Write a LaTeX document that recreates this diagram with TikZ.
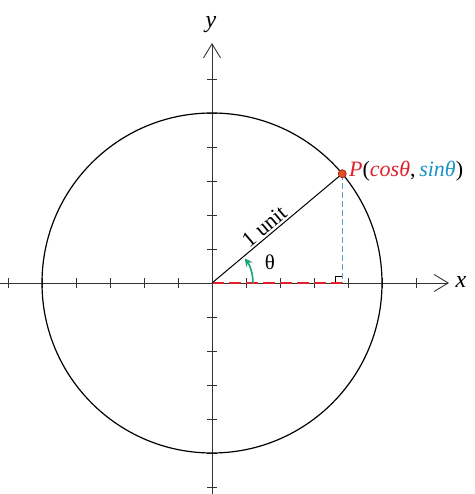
\documentclass[tikz,border=0pt]{standalone}
\usepackage{fontspec}
\setmainfont{Liberation Serif}
\usetikzlibrary{arrows.meta,calc}
\definecolor{ptred}{HTML}{E0202A}
\definecolor{ptblue}{HTML}{1A93C8}
\definecolor{arcgreen}{HTML}{1AA37A}
\definecolor{dotfill}{HTML}{E0502A}
\definecolor{dotline}{HTML}{A02A10}
\definecolor{dashblue}{HTML}{5A9EC8}
\definecolor{axisgray}{HTML}{333333}
\tikzset{
  axisline/.style={draw=axisgray, line width=0.9pt, -{Straight Barb[length=14pt,width=17pt,line width=0.9pt]}},
  tickmark/.style={draw=axisgray, line width=0.9pt},
  axlabel/.style={font=\fontsize{24}{26}\selectfont\itshape},
}
\begin{document}
\begin{tikzpicture}[x=1pt,y=-1pt]
\useasboundingbox (0,0) rectangle (474,494);
\coordinate (O) at (212,283);
\coordinate (xs) at (0,283);
\coordinate (xe) at (449,283);
\coordinate (ys) at (212,494);
\coordinate (ye) at (212,43);
\draw[axisline] (xs) -- (xe);
\draw[axisline] (ys) -- (ye);
\node[axlabel] (xl) at (461,282) {x};
\node[axlabel] (yl) at (211,25) {y};
\foreach \k in {-6,...,6} {
  \draw[tickmark] ($(O)+(34*\k,-5)$) -- ($(O)+(34*\k,5)$);
  \draw[tickmark] ($(O)+(-5,34*\k)$) -- ($(O)+(5,34*\k)$);
}
\draw[line width=1.2pt] (O) circle[radius=170];
\coordinate (P) at ($(O)+(40:170 and -170)$);
\coordinate (F) at (O -| P);
\draw[dashblue, line width=1pt, dash pattern=on 6pt off 3pt] (P) -- (F);
\draw[line width=1pt] ($(F)+(-7,0)$) |- ($(F)+(0,-7)$);
\draw[ptred, line width=2.8pt, dash pattern=on 12pt off 5pt] (O) -- (F);
\draw[line width=1pt] (O) -- (P) node[pos=0.45, above, sloped, font=\fontsize{22}{24}\selectfont, inner sep=2pt] (unit) {1 unit};
\draw[arcgreen, line width=1.6pt, -{Stealth[length=8pt,width=8pt]}] ($(O)+(41,0)$) arc[start angle=0, end angle=-37, radius=41];
\node[font=\fontsize{21}{23}\selectfont] (th) at (270,262) {θ};
\filldraw[fill=dotfill, draw=dotline, line width=0.8pt] (P) circle[radius=4];
\node[anchor=west, font=\fontsize{22}{24}\selectfont, inner sep=0pt] (plabel) at (349,171) {\textcolor{ptred}{\itshape P}(\textcolor{ptred}{\itshape cosθ},\,\textcolor{ptblue}{\itshape sinθ})};
\end{tikzpicture}
\end{document}
